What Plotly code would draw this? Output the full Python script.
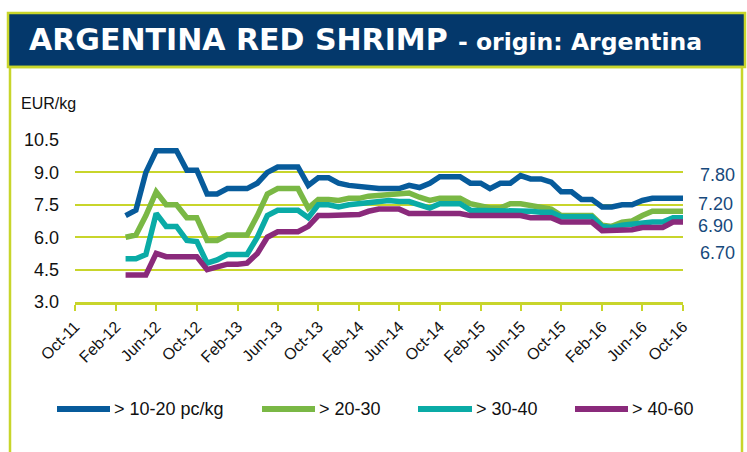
import plotly.graph_objects as go
import pandas as pd

# ---- data ----
months = pd.date_range("2012-03-01", "2016-10-01", freq="MS")
series_names = ["> 10-20 pc/kg", "> 20-30", "> 30-40", "> 40-60"]
blue = [7.0, 7.25, 9.0, 10.0, 10.0, 10.0, 9.1, 9.1, 8.0, 8.0,
        8.25, 8.25, 8.25, 8.5, 9.0, 9.25, 9.25, 9.25, 8.4, 8.75, 8.75, 8.5,
        8.4, 8.35, 8.25, 8.25, 8.25, 8.25, 8.4, 8.3, 8.5, 8.8, 8.8, 8.8,
        8.5, 8.5, 8.25, 8.5, 8.5, 8.85, 8.7, 8.7, 8.55, 8.1, 8.1, 7.75,
        7.75, 7.4, 7.4, 7.5, 7.5, 7.7, 7.8, 7.8, 7.8, 7.8]
green = [6.0, 6.1, 7.0, 8.1, 7.5, 7.5, 6.9, 6.9, 5.85, 5.85,
         6.1, 6.1, 6.1, 7.0, 8.0, 8.25, 8.25, 8.25, 7.35, 7.75, 7.75, 7.7,
         7.8, 7.8, 7.9, 7.95, 8.0, 8.05, 8.05, 7.85, 7.7, 7.8, 7.8, 7.8,
         7.55, 7.45, 7.35, 7.35, 7.55, 7.55, 7.45, 7.4, 7.3, 7.0, 7.0, 7.0,
         7.0, 6.55, 6.5, 6.7, 6.75, 7.0, 7.2, 7.2, 7.2, 7.2]
teal = [5.0, 5.0, 5.2, 7.1, 6.5, 6.5, 5.85, 5.8, 4.8, 4.95,
        5.2, 5.2, 5.2, 6.0, 7.0, 7.25, 7.25, 7.25, 6.9, 7.5, 7.5, 7.4,
        7.5, 7.55, 7.65, 7.7, 7.7, 7.65, 7.65, 7.5, 7.35, 7.55, 7.55, 7.55,
        7.25, 7.25, 7.25, 7.25, 7.25, 7.2, 7.2, 7.15, 7.15, 6.95, 6.95, 6.95,
        6.95, 6.5, 6.45, 6.55, 6.6, 6.7, 6.7, 6.7, 6.9, 6.9]
purple = [4.25, 4.25, 4.25, 5.25, 5.1, 5.1, 5.1, 5.1, 4.5, 4.6,
          4.75, 4.75, 4.8, 5.25, 6.0, 6.25, 6.25, 6.25, 6.5, 7.0, 7.0, 7.0,
          7.0, 7.05, 7.2, 7.3, 7.3, 7.3, 7.1, 7.1, 7.1, 7.1, 7.1, 7.1,
          7.0, 7.0, 7.0, 7.0, 7.0, 7.0, 6.9, 6.9, 6.9, 6.7, 6.7, 6.7,
          6.7, 6.3, 6.3, 6.35, 6.35, 6.45, 6.45, 6.45, 6.7, 6.7]
end_labels = ["7.80", "7.20", "6.90", "6.70"]
y_ticks = [3.0, 4.5, 6.0, 7.5, 9.0, 10.5]

colors = ["#075b9b", "#7ab845", "#0aaba6", "#8a2a7b"]
LIME = "#c8d52b"
NAVY_TXT = "#17497c"
FONT = "Liberation Sans"

# ---- geometry helpers (pixel -> paper) ----
W, H = 747, 452
L, R, T, B = 75, 64, 140, 150
PW, PH = W - L - R, H - T - B


def px(x):
    return (x - L) / PW


def py(y):
    return (H - B - y) / PH


fig = go.Figure()
for name, vals, c in zip(series_names, [blue, green, teal, purple], colors):
    fig.add_trace(go.Scatter(x=months, y=vals, mode="lines", name=name,
                             line=dict(color=c, width=5.5), showlegend=False))

shapes = [
    # title band
    dict(type="rect", xref="paper", yref="paper", x0=px(8), x1=px(745), y0=py(67), y1=py(13),
         fillcolor="#04386b", line=dict(color=LIME, width=2.5), layer="below"),
    # outer frame
    dict(type="rect", xref="paper", yref="paper", x0=px(10), x1=px(742), y0=py(470), y1=py(67),
         fillcolor="rgba(0,0,0,0)", line=dict(color=LIME, width=2.5), layer="below"),
]

annotations = [
    dict(text="<b>ARGENTINA RED SHRIMP</b>", xref="paper", yref="paper", x=px(27), y=py(40),
         xanchor="left", yanchor="middle", showarrow=False,
         font=dict(family="DejaVu Sans", size=30, color="white")),
    dict(text="<b>- origin: Argentina</b>", xref="paper", yref="paper", x=px(456), y=py(42),
         xanchor="left", yanchor="middle", showarrow=False,
         font=dict(family="DejaVu Sans", size=23.5, color="white")),
    dict(text="EUR/kg", xref="paper", yref="paper", x=px(19), y=py(103),
         xanchor="left", yanchor="middle", showarrow=False,
         font=dict(family=FONT, size=16, color="#111")),
]

# end value labels
label_pos = [(698, 175), (696, 204), (696, 226), (698, 253)]
for t, (xx, yy) in zip(end_labels, label_pos):
    annotations.append(dict(text=t, xref="paper", yref="paper", x=px(xx), y=py(yy),
                            xanchor="left", yanchor="middle", showarrow=False,
                            font=dict(family=FONT, size=18, color=NAVY_TXT)))

# custom legend
leg_y = 409
leg_x = [(57, 110), (262, 315), (418, 472), (575, 628)]
for (a, b), c, name in zip(leg_x, colors, series_names):
    shapes.append(dict(type="line", xref="paper", yref="paper", x0=px(a), x1=px(b),
                       y0=py(leg_y), y1=py(leg_y), line=dict(color=c, width=6)))
    annotations.append(dict(text=name, xref="paper", yref="paper", x=px(b + 2), y=py(leg_y),
                            xanchor="left", yanchor="middle", showarrow=False,
                            font=dict(family=FONT, size=18, color="#111")))

fig.update_layout(
    width=W, height=H,
    margin=dict(l=L, r=R, t=T, b=B, autoexpand=False),
    paper_bgcolor="white", plot_bgcolor="white",
    font=dict(family=FONT),
    shapes=shapes, annotations=annotations,
    xaxis=dict(type="date", range=["2011-10-01", "2016-10-01"], tick0="2011-10-01", dtick="M4",
               tickformat="%b-%y", tickangle=-45, showgrid=False, zeroline=False,
               showline=True, linecolor=LIME, linewidth=3, automargin=False,
               ticks="outside", ticklen=6, tickwidth=2, tickcolor=LIME,
               tickfont=dict(family=FONT, size=16, color="#111")),
    yaxis=dict(range=[3, 10.5], tickvals=y_ticks, ticktext=[f"{v:.1f}" for v in y_ticks],
               showgrid=True, gridcolor=LIME, gridwidth=1.5, zeroline=False, showline=False,
               ticks="", ticklabelstandoff=15, automargin=False,
               tickfont=dict(family=FONT, size=18, color="#111")),
)

fig.write_html("out.html", config={"displayModeBar": False},
               post_script="document.body.style.margin='0';document.body.style.overflow='hidden';")
